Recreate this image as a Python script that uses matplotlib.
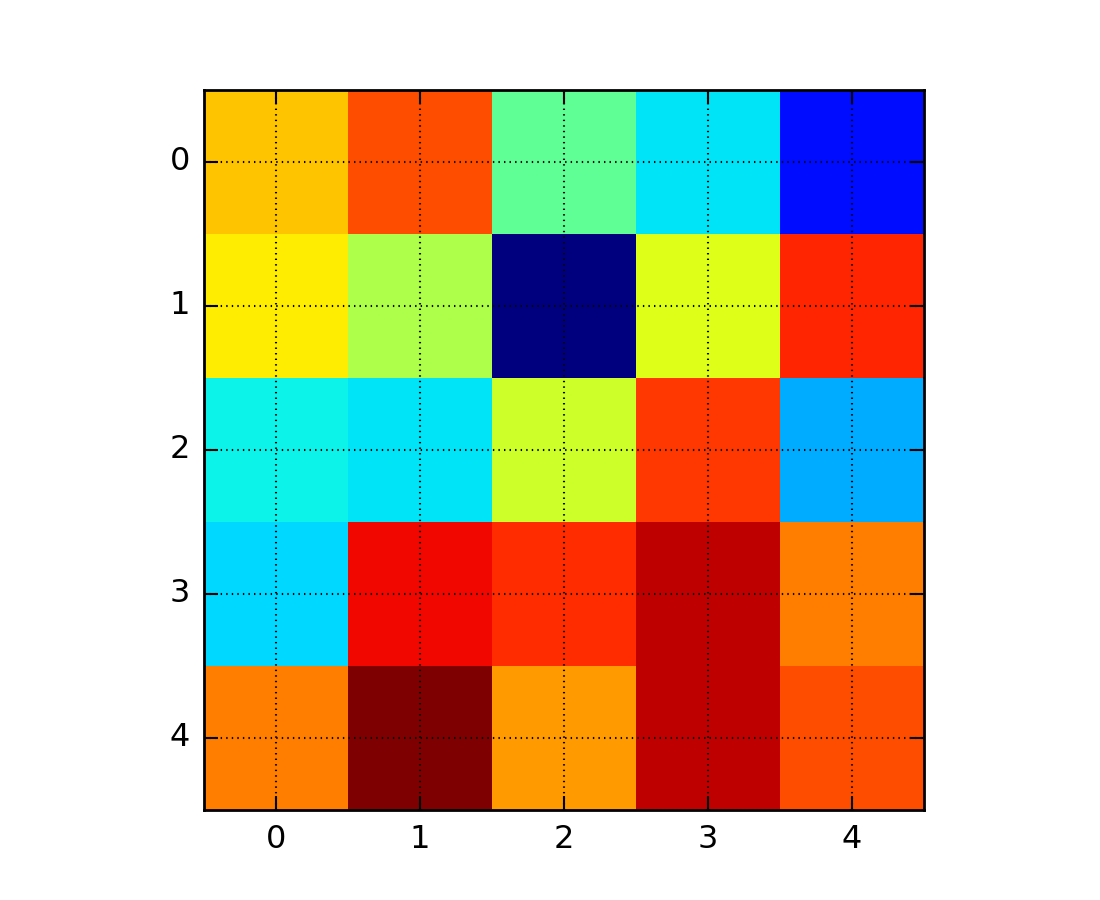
import numpy as np
import matplotlib
matplotlib.use("Agg")
import matplotlib.pyplot as plt

plt.style.use("classic")

row0 = [0.70, 0.825, 0.465, 0.35, 0.14]
row1 = [0.66, 0.56, 0.00, 0.62, 0.87]
row2 = [0.365, 0.35, 0.60, 0.85, 0.295]
row3 = [0.338, 0.90, 0.86, 0.945, 0.775]
row4 = [0.775, 1.00, 0.745, 0.945, 0.826]
ticks = [0, 1, 2, 3, 4]

data = np.array([row0, row1, row2, row3, row4])

fig = plt.figure(figsize=(11, 9), dpi=100)
ax = fig.add_subplot(111)
ax.imshow(data, cmap="jet", interpolation="nearest", vmin=0, vmax=1)

ax.set_xticks(ticks)
ax.set_yticks(ticks)
ax.tick_params(labelsize=23, length=10, width=1.5, direction="in", pad=10)
for s in ax.spines.values():
    s.set_linewidth(2)
ax.grid(True, color="black", linestyle=":", linewidth=1.5)

fig.savefig("out.png", dpi=100)
